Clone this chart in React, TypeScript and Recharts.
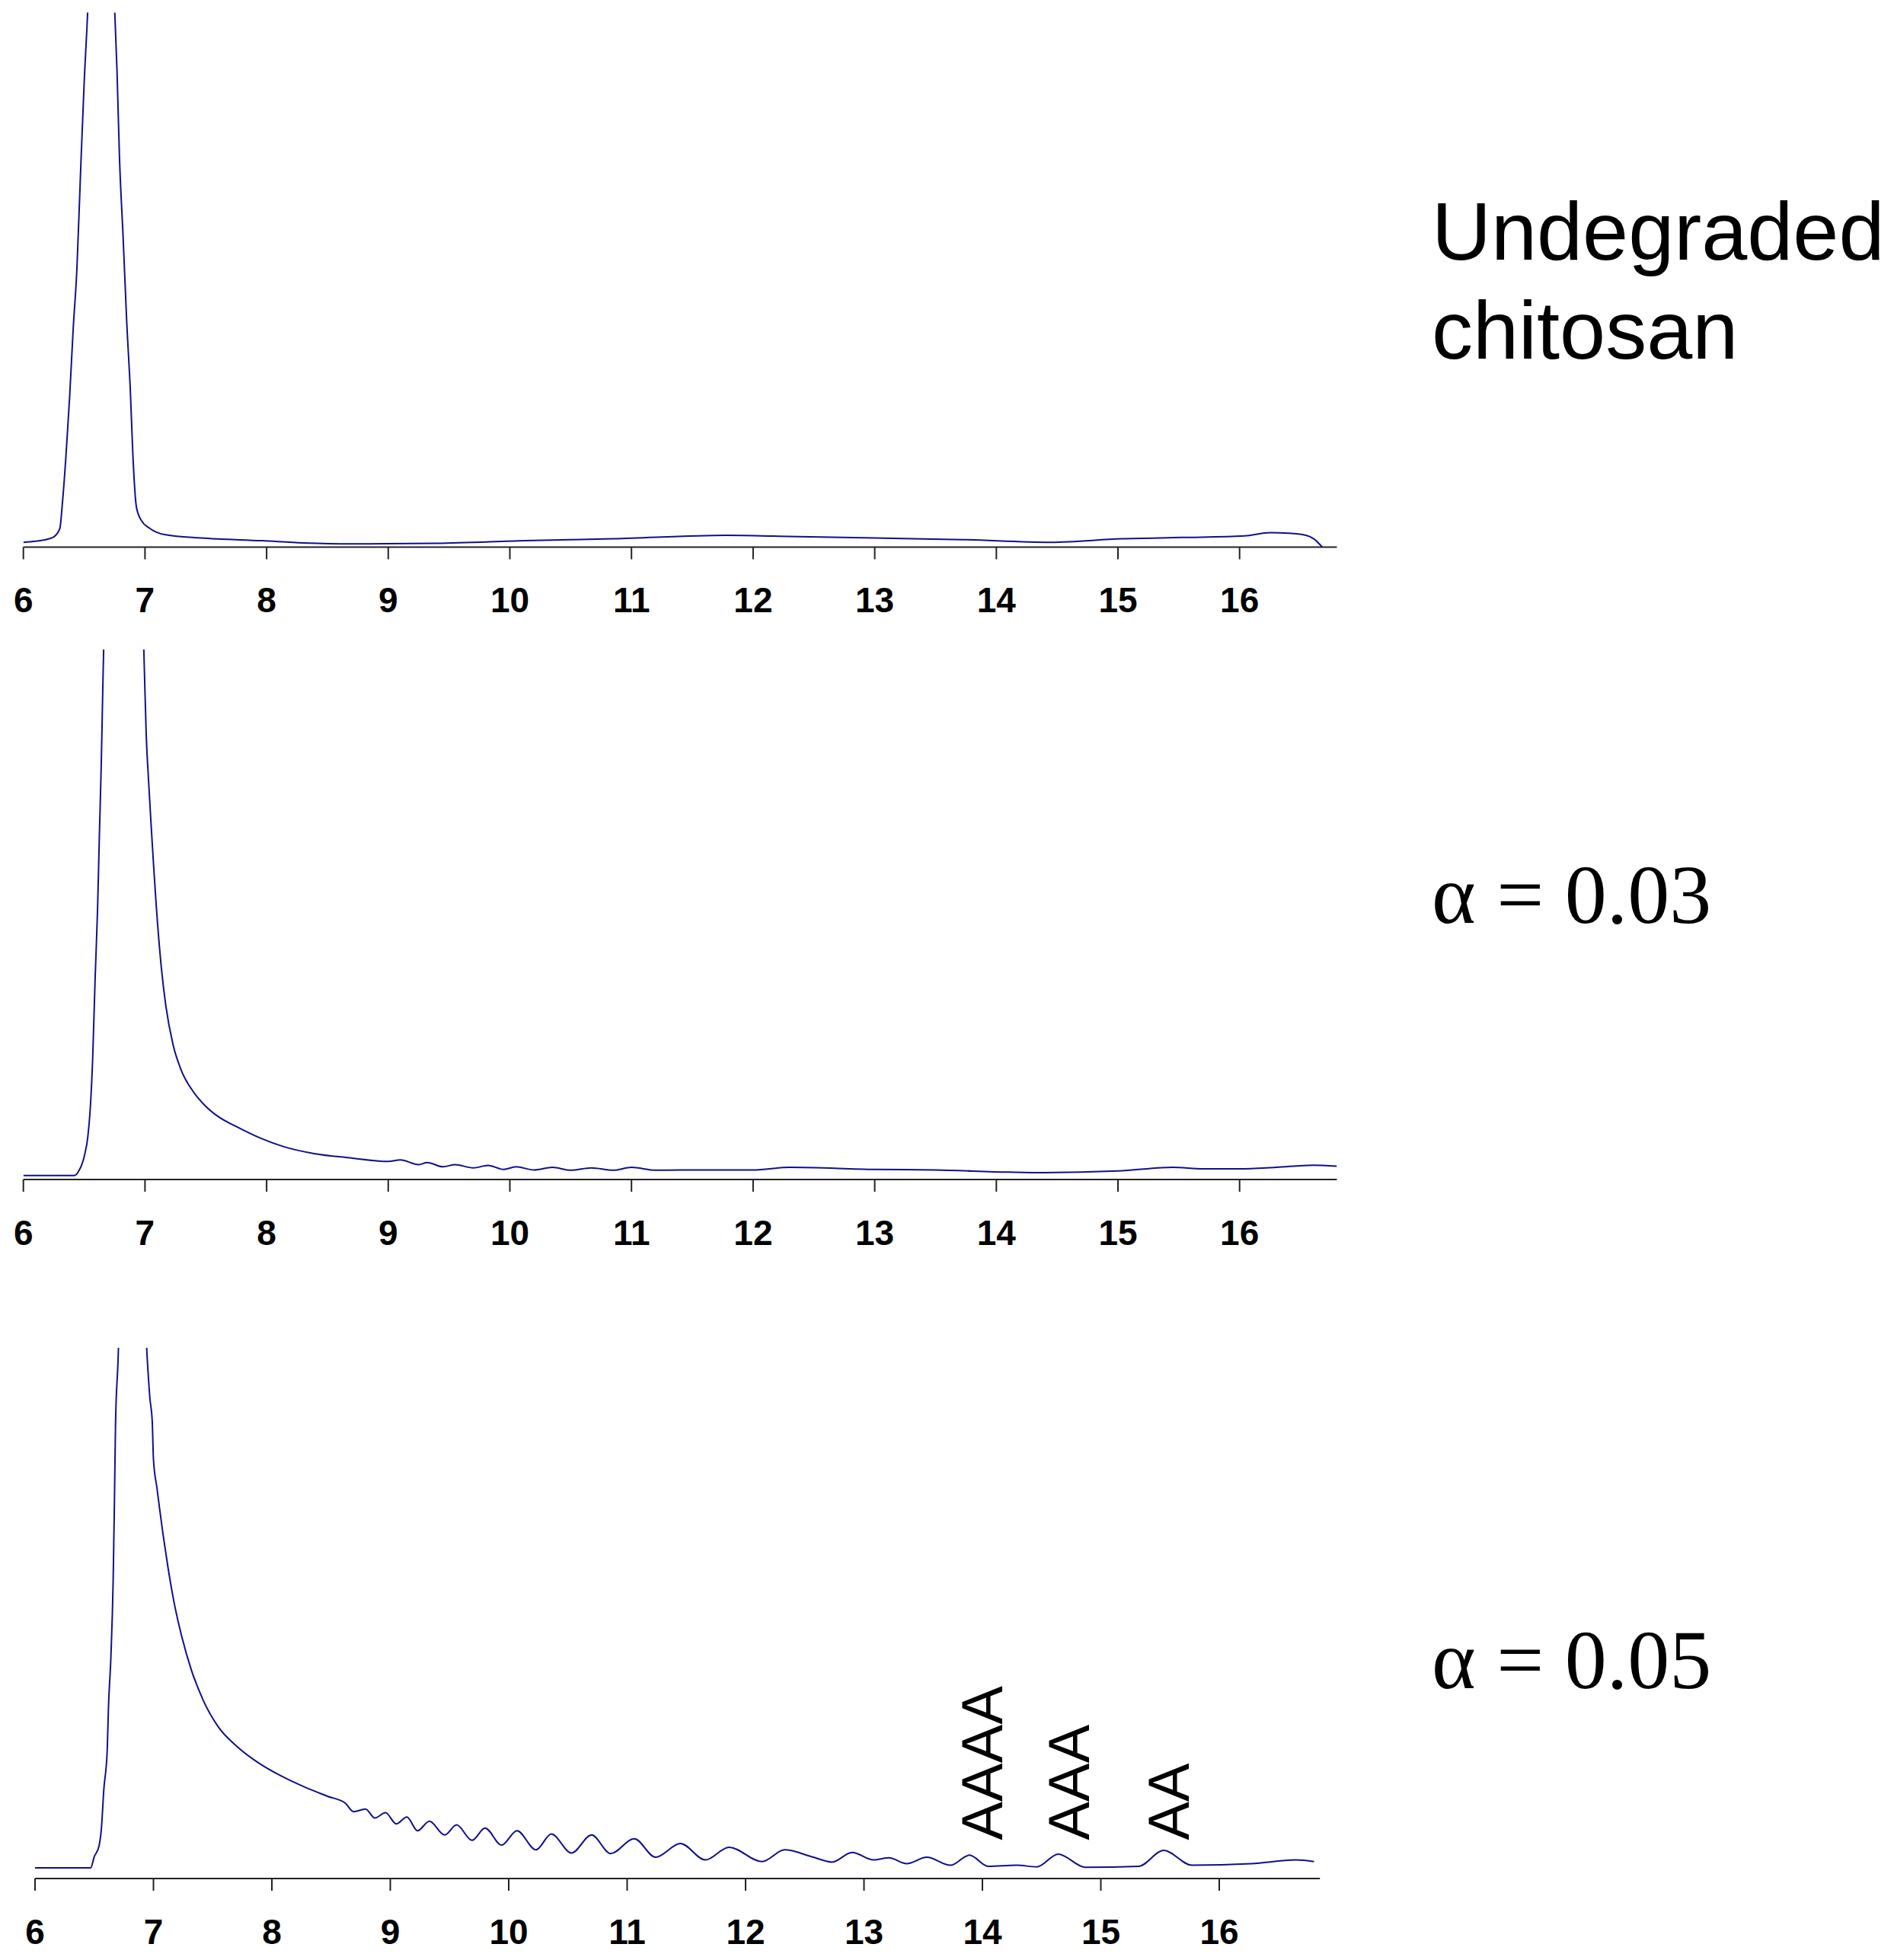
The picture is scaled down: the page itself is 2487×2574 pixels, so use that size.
import { LineChart, Line, XAxis, YAxis, ReferenceDot } from 'recharts';

// retention time (min) and detector signal (% of plot height, peaks go off-scale)
const undegradedTime = [
  6.0, 6.1, 6.2, 6.25, 6.3, 6.32, 6.35, 6.38, 6.41, 6.44, 6.47, 6.5, 6.53, 6.6, 6.64, 6.7,
  6.75, 6.77, 6.79, 6.82, 6.85, 6.88, 6.9, 6.93, 6.97, 7.04, 7.17, 7.46, 7.96, 8.3, 8.69,
  9.4, 10.13, 10.85, 11.78, 12.29, 13.0, 13.73, 14.45, 15.03, 15.53, 16.04, 16.25, 16.4,
  16.54, 16.61, 16.68,
];
const undegradedSignal = [
  0.9, 1.1, 1.5, 1.9, 3.5, 8, 17, 28, 41, 52, 70, 87, 101, 160, 175, 150,
  101, 89, 73, 58, 42, 29, 17.4, 7.4, 5, 3.5, 2.3, 1.7, 1.2, 0.8, 0.6,
  0.7, 1.2, 1.55, 2.2, 2.0, 1.7, 1.4, 0.9, 1.55, 1.8, 2.1, 2.7, 2.6,
  2.25, 1.55, 0,
];

const alpha03Time = [
  6.0, 6.42, 6.45, 6.5, 6.53, 6.55, 6.57, 6.59, 6.61, 6.625, 6.64, 6.655, 6.7, 6.8, 6.9,
  6.995, 7.01, 7.03, 7.05, 7.07, 7.09, 7.13, 7.17, 7.23, 7.3, 7.39, 7.5, 7.6, 7.75, 7.96,
  8.14, 8.39, 8.68, 9.0, 9.1, 9.25, 9.32, 9.45, 9.55, 9.7, 9.82, 9.95, 10.05, 10.2, 10.35,
  10.5, 10.67, 10.85, 11.0, 11.2, 11.4, 12.0, 12.3, 13.0, 13.5, 14.1, 14.4, 15.0, 15.45,
  15.7, 16.0, 16.3, 16.6, 16.8,
];
const alpha03Signal = [
  0.76, 0.76, 1.4, 4.3, 8.1, 13.4, 23, 38, 51, 65, 78, 95, 140, 200, 170,
  96, 84, 75, 67, 59.5, 52.5, 41, 33, 25.5, 20.5, 16.8, 13.8, 11.9, 10, 7.7,
  6.2, 4.9, 4.1, 3.4, 3.7, 2.8, 3.2, 2.4, 2.8, 2.2, 2.65, 1.9, 2.4, 1.8, 2.3,
  1.75, 2.2, 1.75, 2.3, 1.75, 1.8, 1.8, 2.3, 1.9, 1.8, 1.4, 1.3, 1.6, 2.3,
  2.0, 2.0, 2.3, 2.7, 2.5,
];

const alpha05Time = [
  6.0, 6.47, 6.5, 6.54, 6.56, 6.58, 6.61, 6.62, 6.64, 6.66, 6.67, 6.68, 6.7, 6.8, 6.95,
  6.97, 6.99, 7.0, 7.03, 7.05, 7.08, 7.12, 7.17, 7.24, 7.32, 7.42, 7.55, 7.71, 7.88, 8.08,
  8.27, 8.47, 8.62, 8.69, 8.79, 8.87, 8.96, 9.05, 9.14, 9.23, 9.33, 9.46, 9.56, 9.69, 9.8,
  9.94, 10.07, 10.23, 10.36, 10.53, 10.7, 10.86, 11.06, 11.24, 11.45, 11.66, 11.86, 12.14,
  12.33, 12.56, 12.73, 12.9, 13.08, 13.21, 13.36, 13.53, 13.73, 13.89, 14.05, 14.29, 14.46,
  14.64, 14.87, 15.32, 15.53, 15.77, 16.27, 16.65, 16.8,
];
const alpha05Signal = [
  2.0, 2.0, 4.1, 6.1, 9.3, 16.5, 24.4, 32.2, 41.4, 56.5, 70.2, 85.9, 97, 180, 97,
  90.5, 86, 79, 73.5, 70, 65, 59, 52.5, 45.5, 39.3, 33.6, 28.5, 24.8, 21.9, 19.3,
  17.3, 15.5, 14.2, 12.6, 13.1, 11.4, 12.4, 10.3, 11.6, 9.0, 10.8, 8.2, 10.1, 7.2, 9.5,
  6.3, 9.0, 5.4, 8.4, 4.8, 8.2, 4.7, 7.5, 4.0, 6.6, 3.5, 5.9, 3.2,
  5.4, 4.1, 3.1, 4.9, 3.5, 3.9, 2.8, 4.0, 2.5, 4.4, 2.3, 2.5, 2.2,
  4.6, 2.1, 2.3, 5.3, 2.5, 2.8, 3.5, 3.2,
];

const timeTicks = [6, 7, 8, 9, 10, 11, 12, 13, 14, 15, 16];

const oligomerLabels = ['AAAA', 'AAA', 'AA'];
const oligomerTime = [14.17, 14.9, 15.74];
const oligomerLevel = [7.2, 7.2, 7.2];

const toRows = (time: number[], signal: number[]) => time.map((t, i) => ({ t, v: signal[i] }));

const RotatedLabel = (props: any) => {
  const vb = props.viewBox || {};
  const x = vb.cx ?? vb.x;
  const y = vb.cy ?? vb.y;
  return (
    <text
      x={x}
      y={y}
      transform={`rotate(-90 ${x} ${y})`}
      textAnchor="start"
      fontFamily="'Liberation Sans', Arial, sans-serif"
      fontSize={76}
      fill="#000"
    >
      {props.text}
    </text>
  );
};

interface PanelProps {
  rows: { t: number; v: number }[];
  top: number;
  plotTop: number;
  plotHeight: number;
  left: number;
  unit: number;
  xMax: number;
  children?: any;
}

function Panel({ rows, top, plotTop, plotHeight, left, unit, xMax, children }: PanelProps) {
  const plotWidth = (xMax - 6) * unit;
  return (
    <div style={{ position: 'absolute', left: 0, top }}>
      <LineChart
        width={left + plotWidth + 20}
        height={plotTop + plotHeight + 120}
        data={rows}
        margin={{ top: plotTop, left, right: 20, bottom: 0 }}
      >
        <XAxis
          dataKey="t"
          type="number"
          domain={[6, xMax]}
          ticks={timeTicks}
          interval={0}
          allowDataOverflow
          height={120}
          tickSize={16}
          tickMargin={37}
          axisLine={{ stroke: '#222', strokeWidth: 2 }}
          tickLine={{ stroke: '#222', strokeWidth: 2 }}
          tick={{
            fontFamily: "'Liberation Sans', Arial, sans-serif",
            fontWeight: 700,
            fontSize: 46,
            fill: '#000',
          }}
        />
        <YAxis hide domain={[0, 100]} allowDataOverflow />
        <Line
          type="monotone"
          dataKey="v"
          stroke="#10108a"
          strokeWidth={2}
          dot={false}
          activeDot={false}
          isAnimationActive={false}
        />
        {children}
      </LineChart>
    </div>
  );
}

export default function App() {
  return (
    <div style={{ position: 'relative', width: 2487, height: 2574, background: '#fff' }}>
      <style>{'body{margin:0}'}</style>
      <Panel
        rows={toRows(undegradedTime, undegradedSignal)}
        top={0}
        plotTop={16.5}
        plotHeight={702}
        left={30.7}
        unit={159.7}
        xMax={16.8}
      />
      <Panel
        rows={toRows(alpha03Time, alpha03Signal)}
        top={843}
        plotTop={10}
        plotHeight={696}
        left={30.7}
        unit={159.7}
        xMax={16.8}
      />
      <Panel
        rows={toRows(alpha05Time, alpha05Signal)}
        top={1760}
        plotTop={10}
        plotHeight={697}
        left={46}
        unit={155.5}
        xMax={16.85}
      >
        {oligomerLabels.map((name, i) => (
          <ReferenceDot
            key={name}
            x={oligomerTime[i]}
            y={oligomerLevel[i]}
            r={0}
            fill="none"
            stroke="none"
            ifOverflow="visible"
            label={{ content: (p: any) => <RotatedLabel {...p} text={name} /> }}
          />
        ))}
      </Panel>
      <svg
        width={2487}
        height={2574}
        style={{ position: 'absolute', left: 0, top: 0, pointerEvents: 'none' }}
      >
        <g fontFamily="'Liberation Sans', Arial, sans-serif" fontSize={108} fill="#000">
          <text x={1880} y={341}>Undegraded</text>
          <text x={1880} y={471}>chitosan</text>
        </g>
        <g fontFamily="'Liberation Serif', 'Times New Roman', serif" fontSize={110} fill="#000">
          <text x={1880} y={1212}>α = 0.03</text>
          <text x={1880} y={2217}>α = 0.05</text>
        </g>
      </svg>
    </div>
  );
}
